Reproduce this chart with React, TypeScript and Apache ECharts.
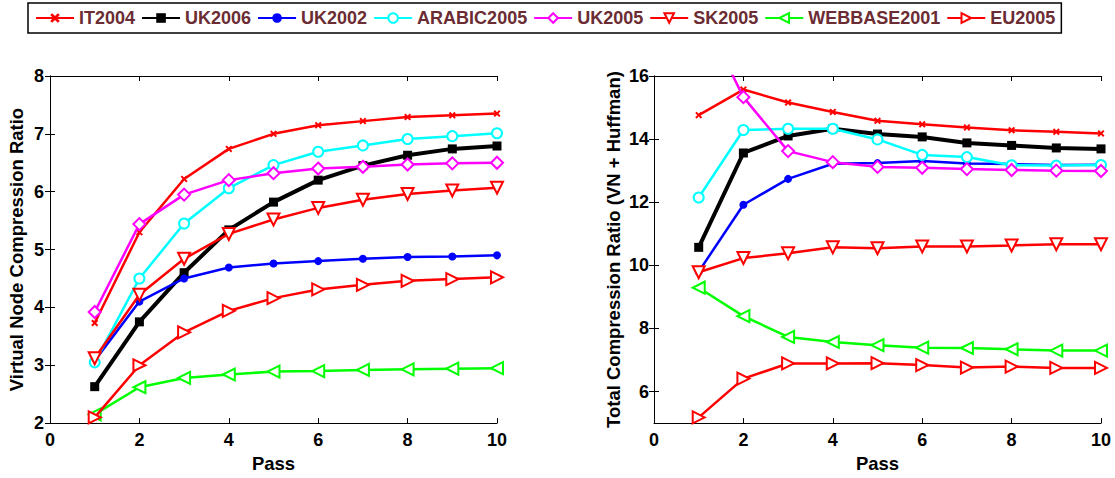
import React, { useEffect, useRef } from "react";
import * as echarts from "echarts";

const passes = [1, 2, 3, 4, 5, 6, 7, 8, 9, 10];
const seriesNames = ["IT2004", "UK2006", "UK2002", "ARABIC2005", "UK2005", "SK2005", "WEBBASE2001", "EU2005"];

// Virtual Node Compression Ratio (left)
const nodeIT2004 = [3.73, 5.3, 6.22, 6.74, 7.0, 7.15, 7.22, 7.29, 7.32, 7.35];
const nodeUK2006 = [2.63, 3.75, 4.6, 5.34, 5.82, 6.2, 6.45, 6.63, 6.74, 6.79];
const nodeUK2002 = [3.08, 4.1, 4.5, 4.69, 4.76, 4.8, 4.84, 4.87, 4.88, 4.9];
const nodeARABIC2005 = [3.05, 4.5, 5.45, 6.06, 6.46, 6.69, 6.8, 6.91, 6.96, 7.01];
const nodeUK2005 = [3.92, 5.44, 5.95, 6.2, 6.32, 6.4, 6.43, 6.47, 6.49, 6.5];
const nodeSK2005 = [3.12, 4.22, 4.84, 5.27, 5.52, 5.72, 5.86, 5.96, 6.02, 6.07];
const nodeWEBBASE2001 = [2.15, 2.62, 2.78, 2.84, 2.89, 2.9, 2.92, 2.93, 2.94, 2.95];
const nodeEU2005 = [2.1, 3.0, 3.57, 3.94, 4.16, 4.31, 4.39, 4.46, 4.49, 4.52];

// Total Compression Ratio (VN + Huffman) (right)
const totalIT2004 = [14.76, 15.57, 15.16, 14.86, 14.58, 14.47, 14.37, 14.28, 14.23, 14.18];
const totalUK2006 = [10.57, 13.56, 14.1, 14.33, 14.16, 14.07, 13.88, 13.8, 13.72, 13.69];
const totalUK2002 = [9.8, 11.92, 12.74, 13.22, 13.24, 13.31, 13.23, 13.21, 13.18, 13.19];
const totalARABIC2005 = [12.15, 14.29, 14.33, 14.33, 13.99, 13.5, 13.43, 13.17, 13.16, 13.18];
const totalUK2005 = [18.2, 15.33, 13.62, 13.27, 13.12, 13.09, 13.05, 13.02, 13.0, 12.99];
const totalSK2005 = [9.78, 10.23, 10.38, 10.57, 10.54, 10.6, 10.6, 10.63, 10.67, 10.67];
const totalWEBBASE2001 = [9.29, 8.39, 7.73, 7.57, 7.47, 7.39, 7.38, 7.34, 7.3, 7.3];
const totalEU2005 = [5.18, 6.41, 6.89, 6.89, 6.9, 6.84, 6.76, 6.79, 6.75, 6.75];

const leftYTicks = [2, 3, 4, 5, 6, 7, 8];
const rightYTicks = [6, 8, 10, 12, 14, 16];
const xTicks = [0, 2, 4, 6, 8, 10];

const nodeData = [nodeIT2004, nodeUK2006, nodeUK2002, nodeARABIC2005, nodeUK2005, nodeSK2005, nodeWEBBASE2001, nodeEU2005];
const totalData = [totalIT2004, totalUK2006, totalUK2002, totalARABIC2005, totalUK2005, totalSK2005, totalWEBBASE2001, totalEU2005];

const FONT = "'Liberation Sans', Arial, sans-serif";
const crossPath = "path://M0,2 L2,0 L5,3 L8,0 L10,2 L7,5 L10,8 L8,10 L5,7 L2,10 L0,8 L3,5 Z";

const styles: any[] = [
  { color: "#ff0000", symbol: crossPath, size: 7, rotate: 0, lw: 2.5, bw: 0 },
  { color: "#000000", symbol: "rect", size: 9, rotate: 0, lw: 4, bw: 0 },
  { color: "#0000ff", symbol: "circle", size: 8, rotate: 0, lw: 2.5, bw: 0 },
  { color: "#00ffff", symbol: "emptyCircle", size: 10, rotate: 0, lw: 2.5, bw: 2 },
  { color: "#ff00ff", symbol: "emptyDiamond", size: 12, rotate: 0, lw: 2.5, bw: 2 },
  { color: "#ff0000", symbol: "emptyTriangle", size: 12, rotate: 180, lw: 2.5, bw: 2 },
  { color: "#00ff00", symbol: "emptyTriangle", size: 12, rotate: 90, lw: 2.5, bw: 2 },
  { color: "#ff0000", symbol: "emptyTriangle", size: 12, rotate: -90, lw: 2.5, bw: 2 },
];

export default function App() {
  const ref = useRef<HTMLDivElement>(null);
  useEffect(() => {
    if (!ref.current) return;
    const chart = echarts.init(ref.current, null, { renderer: "svg" });
    const axisLine = { show: true, lineStyle: { color: "#000", width: 1 } };
    const tick = { show: true, inside: true, length: 5, lineStyle: { color: "#000" } };
    const label = { fontFamily: FONT, fontWeight: "bold", fontSize: 18, color: "#000" };
    const nameStyle = { fontFamily: FONT, fontWeight: "bold", fontSize: 18.5, color: "#000" };
    const grids = [
      { left: 50, top: 76, width: 447, height: 353 },
      { left: 654, top: 76, width: 447, height: 353 },
    ];
    const xAxes: any[] = [];
    const yAxes: any[] = [];
    [0, 1].forEach((g) => {
      xAxes.push({
        type: "value", gridIndex: g, position: "bottom", min: 0, max: 10, interval: 2,
        axisLine, axisTick: tick, splitLine: { show: false },
        axisLabel: { ...label, margin: 8, customValues: xTicks },
        name: "Pass", nameLocation: "middle", nameGap: 30, nameTextStyle: nameStyle,
      });
      xAxes.push({
        type: "value", gridIndex: g, position: "top", min: 0, max: 10, interval: 2,
        axisLine, axisTick: tick, splitLine: { show: false }, axisLabel: { show: false },
      });
    });
    yAxes.push({
      type: "value", gridIndex: 0, position: "left", min: 2, max: 8, interval: 1,
      axisLine, axisTick: tick, splitLine: { show: false },
      axisLabel: { ...label, margin: 6, customValues: leftYTicks },
      name: "Virtual Node Compression Ratio", nameLocation: "middle", nameGap: 24, nameTextStyle: nameStyle,
    });
    yAxes.push({
      type: "value", gridIndex: 0, position: "right", min: 2, max: 8, interval: 1,
      axisLine, axisTick: tick, splitLine: { show: false }, axisLabel: { show: false },
    });
    yAxes.push({
      type: "value", gridIndex: 1, position: "left", min: 5, max: 16,
      axisLine, axisTick: { ...tick, customValues: rightYTicks }, splitLine: { show: false },
      axisLabel: { ...label, margin: 5, customValues: rightYTicks },
      name: "Total Compression Ratio (VN + Huffman)", nameLocation: "middle", nameGap: 31, nameTextStyle: nameStyle,
    });
    yAxes.push({
      type: "value", gridIndex: 1, position: "right", min: 5, max: 16,
      axisLine, axisTick: { ...tick, customValues: rightYTicks }, splitLine: { show: false }, axisLabel: { show: false },
    });

    const series: any[] = [];
    [nodeData, totalData].forEach((set, g) => {
      set.forEach((vals, i) => {
        const s = styles[i];
        series.push({
          type: "line", name: seriesNames[i], xAxisIndex: g * 2, yAxisIndex: g * 2,
          data: passes.map((p, k) => [p, vals[k]]),
          symbol: s.symbol, symbolSize: s.size, symbolRotate: s.rotate, showAllSymbol: true,
          lineStyle: { color: s.color, width: s.lw },
          itemStyle: { color: s.color, borderColor: s.color, borderWidth: s.bw },
          clip: true, z: 2 + i,
        });
      });
    });

    chart.setOption({
      animation: false,
      backgroundColor: "#fff",
      grid: grids,
      xAxis: xAxes,
      yAxis: yAxes,
      legend: {
        data: seriesNames, left: 28, top: 3, orient: "horizontal",
        padding: [6, 6, 6, 7], itemGap: 6, itemWidth: 38, itemHeight: 12,
        borderColor: "#000", borderWidth: 1.5, backgroundColor: "#fff",
        textStyle: { fontFamily: FONT, fontWeight: "bold", fontSize: 18, color: "#6b2c33" },
      },
      series,
    });
    return () => chart.dispose();
  }, []);
  return <div ref={ref} style={{ position: "fixed", left: 0, top: 0, width: 1115, height: 478 }} />;
}
